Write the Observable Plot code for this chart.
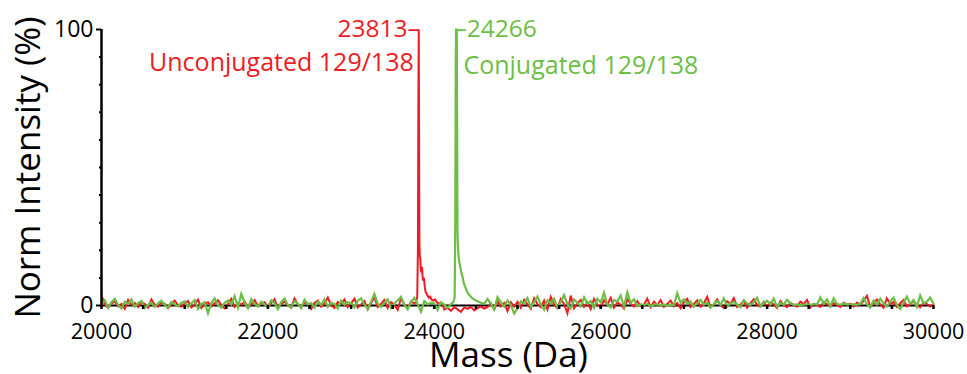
<!DOCTYPE html>
<html><head><meta charset="utf-8">
<script src="https://cdn.jsdelivr.net/npm/d3@7"></script>
<script src="https://cdn.jsdelivr.net/npm/@observablehq/plot@0.6"></script>
<style>body{margin:0;background:#fff}</style>
</head><body><div id="chart"></div><script>
const massStart = 20000, massStep = 40;
const redNoise = [
  3.5, 0.4, -0.9, 0.8, 1.5, -0.3, 0.6, -1.2, 2.0, 0.2, 0.9, -0.6, 1.3, 0.5, -0.8, 2.2, 0.3, -0.4, 1.1, 0.6, -1.0, 0.4, 1.8, 0.1, -0.5,
  0.7, 1.6, -0.7, 0.3, 2.1, -0.9, 0.5, 1.2, -0.3, 0.8, 1.9, 0.2, -1.1, 0.6, 2.4, -0.5, 0.9, 0.3, 1.5, -0.8, 0.4, 2.0, -0.2, 0.7, 1.2,
  -0.6, 0.9, 2.3, -1.0, 0.5, 1.4, 0.2, -0.8, 2.6, 0.4, -0.3, 1.1, 0.7, -1.3, 0.9, 1.8, -0.4, 0.6, 2.9, 0.1, -0.9, 1.3, 0.5, 2.2, -0.6,
  0.8, 2.5, -0.7, 0.4, 1.6, -1.4, 0.9, 3.0, -0.5, 0.6, 2.0, -0.9, 1.2, 0.3, -1.6, 2.7, 0.5, -0.8, 1.4, 0.2, -2.0, 0.9, 1.7, -0.4, 0.6,
  0.5, -0.3, -0.9, -1.5, -0.8, -1.9, -0.6, -1.4, -2.3, -0.7, -1.2, -0.5, -1.8, -0.9, -0.4, -1.1, -0.6, 0.8, -1.5, 1.6, -0.3, 0.9, -2.0, 1.2, -0.4,
  1.3, -0.8, 2.1, 0.4, -1.2, 2.6, 0.5, -0.6, 1.8, -1.4, 3.1, 0.2, -0.9, 2.3, 0.6, -2.8, 3.6, -1.0, 0.8, 2.0, -0.5, 1.1, -1.3, 2.4, 0.3,
  -0.7, 1.9, 0.4, 2.8, -0.8, 1.2, 0.3, -1.1, 2.2, 0.6, -0.4, 1.6, -0.2, 0.3, 2.5, -0.6, 1.4, 0.2, 2.0, -0.5, 0.6, 1.8, -0.3, 0.9, -1.0,
  1.2, 2.4, -0.6, 0.5, 1.9, -0.4, 0.8, 3.1, -0.7, 0.4, 2.2, 0.1, -0.9, 1.5, 0.6, 2.7, -0.5, 0.3, 1.7, -0.8, 0.9, 2.3, 0.2, -0.4, 1.3,
  -0.5, 1.1, 0.4, -0.9, 1.6, 0.2, -0.6, 0.9, 0.3, -0.4, 1.4, 0.5, 2.0, -0.7, 0.6, 0.2, -0.5, 1.2, 0.4, -0.3, 0.8, 0.3, -0.6, 1.0, 0.4,
  0.6, -0.4, 1.1, 0.3, 1.8, 3.5, -0.6, 0.7, 2.2, 0.4, -0.8, 2.6, 0.5, 1.3, -0.5, 0.8, 2.0, -0.3, 0.6, 1.5, 0.2, -0.7, 1.1, 0.5, -0.4,
  0.3
];
const greenNoise = [
  0.6, 1.9, -0.8, 1.2, 2.4, 0.2, -1.1, 1.4, 0.5, 2.2, -0.4, 0.9, 1.6, -0.9, 0.3, 1.1, -0.5, 0.8, 1.7, 0.1, -0.7, 1.3, 0.4, -0.3, 0.9,
  1.5, -0.6, 0.7, 2.0, -1.2, 0.5, 1.2, -2.8, 0.9, 2.6, 0.2, -0.8, 1.0, 1.8, 0.4, 3.4, -0.7, 4.2, 1.1, -1.0, 2.3, 0.6, -0.4, 1.4, 0.3,
  -0.5, 1.9, 0.8, -1.3, 1.2, 2.5, 0.1, -0.6, 1.6, 0.7, -1.0, 2.1, 0.4, 0.9, -0.8, 1.5, 0.2, 2.3, -0.4, 1.0, 0.6, -1.1, 1.8, 0.3, 1.2,
  0.8, -0.7, 1.7, 2.6, 0.3, -1.2, 1.4, 4.2, 0.6, -0.5, 1.1, 2.2, -0.9, 0.7, 1.9, 3.1, 0.2, -1.4, 1.3, 2.8, 0.5, -2.2, 1.6, 0.4, 1.0,
  0.7, -1.6, 1.2, 0.3, -0.9, 1.0, 0.5, 1.2, 0.8, 1.1, 0.4, 0.9, 1.3, 0.6, 1.0, 0.7, 2.4, 0.6, -1.3, 3.0, 1.1, -0.4, 1.8, 0.2, -2.9,
  -1.0, 1.5, 0.8, 2.7, -0.6, 1.2, 3.3, 0.4, -1.5, 1.9, 0.7, 2.5, -0.8, 1.3, 3.8, 0.5, -1.1, 2.2, 1.0, -0.3, 2.9, 0.6, 1.6, -0.9, 2.4,
  1.1, 4.6, 0.3, -0.7, 2.0, 1.4, 3.6, -0.5, 4.8, 0.9, 2.3, -0.3, 0.4, 0.2, 0.6, -0.2, 0.3, 0.5, 0.1, 0.4, -0.1, 0.3, 0.2, 4.5, 1.0,
  2.2, 0.6, 1.4, -0.5, 0.9, 2.0, 0.3, 1.1, -0.8, 0.5, 1.6, 0.2, 2.6, -0.4, 0.8, 1.3, 0.4, -0.6, 1.9, 0.7, 0.2, 1.2, 2.8, -0.3, 0.9,
  1.7, 0.4, 2.5, -0.5, 1.0, 0.3, 2.1, 0.8, 0.2, 0.4, 0.1, 0.3, 0.5, 0.2, 0.6, 0.4, 2.9, 0.6, 2.2, -0.3, 2.6, 0.5, 0.3, 0.6, 0.4,
  0.3, 0.5, 0.2, 0.6, 2.7, 0.4, -0.6, 1.8, 0.3, 2.5, 0.7, -0.4, 1.5, 2.9, 0.2, -1.3, 1.1, 3.2, 0.6, 2.0, -0.5, 3.6, 0.8, 1.4, 2.9,
  0.6
];
// Peak regions (mass, intensity)
const redPeakMass = [23760, 23780, 23795, 23803, 23808, 23813, 23817, 23821, 23826, 23832, 23838, 23845, 23852, 23858, 23866, 23875, 23885, 23894, 23905, 23920, 23935, 23950, 23965, 23990, 24010, 24030, 24050, 24075, 24100];
const redPeakInt  = [0.8, 1.2, 3, 20, 70, 100, 60, 22, 18, 17, 13, 12, 14, 11, 9, 10, 7, 5, 4.5, 3.5, 2.8, 3.2, 2.2, 1.8, 2.2, 1.2, 0.8, 0.6, 0.2];
const greenPeakMass = [24200, 24230, 24245, 24252, 24258, 24263, 24270, 24275, 24279, 24285, 24291, 24300, 24312, 24325, 24339, 24355, 24375, 24395, 24415, 24435, 24460, 24490, 24520, 24560, 24600];
const greenPeakInt  = [0.5, 1.2, 3, 30, 90, 100, 100, 60, 26, 21, 18, 16, 14, 12, 10.5, 8, 6.5, 5, 4, 3.3, 2.6, 2, 1.5, 1, 0.6];

const seriesNames = ["Unconjugated 129/138", "Conjugated 129/138"];
const peakLabels = ["23813", "24266"];
const peakMasses = [23813, 24266];
const xDomain = [20000, 30000];
const yDomain = [0, 100];
const xLabelTicks = [20000, 22000, 24000, 26000, 28000, 30000];
const xMinorTicks = d3.range(20000, 30001, 500);
const yLabelTicks = [0, 100];
const yMinorTicks = [10, 20, 30, 40, 50, 60, 70, 80, 90];

const RED = "#ED1C24", GREEN = "#6DBE45";

function build(noise, pkMass, pkInt) {
  const lo = pkMass[0], hi = pkMass[pkMass.length - 1];
  const pts = noise.map((v, i) => ({mass: massStart + i * massStep, intensity: v}))
    .filter(d => d.mass < lo || d.mass > hi);
  pkMass.forEach((m, i) => pts.push({mass: m, intensity: pkInt[i]}));
  return pts.sort((a, b) => a.mass - b.mass);
}
const red = build(redNoise, redPeakMass, redPeakInt);
const green = build(greenNoise, greenPeakMass, greenPeakInt);

const font = "'Open Sans', 'DejaVu Sans', sans-serif";

const chart = Plot.plot({
  width: 967, height: 374,
  marginLeft: 101, marginRight: 34, marginTop: 29, marginBottom: 69,
  style: {fontFamily: font, background: "#fff", overflow: "visible"},
  x: {domain: xDomain, label: null},
  y: {domain: yDomain, label: null},
  marks: [
    Plot.ruleY([0], {stroke: "black", strokeWidth: 2}),
    Plot.lineY(red, {x: "mass", y: "intensity", stroke: RED, strokeWidth: 2, strokeLinejoin: "miter", strokeMiterlimit: 4}),
    Plot.lineY(green, {x: "mass", y: "intensity", stroke: GREEN, strokeWidth: 2.2, strokeLinejoin: "miter", strokeMiterlimit: 4}),
    Plot.ruleX([xDomain[0]], {y1: yDomain[0], y2: yDomain[1], stroke: "black", strokeWidth: 2.5}),
    Plot.axisX(xMinorTicks, {tickSize: 4, strokeWidth: 2.5, tickFormat: () => ""}),
    Plot.axisX(xLabelTicks, {tickSize: 0, tickPadding: 18, fontSize: 21.5, fill: "black", tickFormat: d => String(d)}),
    Plot.axisY(yMinorTicks, {tickSize: 2, strokeWidth: 2, tickFormat: () => ""}),
    Plot.axisY(yLabelTicks, {tickSize: 5, strokeWidth: 2, tickPadding: 3, fontSize: 23, fill: "black", tickFormat: d => String(d)}),
    // peak labels
    Plot.text([0], {x: () => peakMasses[0], y: () => 100, text: () => peakLabels[0] + "\u2013", textAnchor: "end", dx: 1, fill: RED, fontSize: 24.5, lineAnchor: "middle"}),
    Plot.text([0], {x: () => peakMasses[0], y: () => 100, text: () => seriesNames[0], textAnchor: "end", dx: -5, dy: 33, fill: RED, fontSize: 25, lineAnchor: "middle"}),
    Plot.text([0], {x: () => peakMasses[1], y: () => 100, text: () => "\u2013" + peakLabels[1], textAnchor: "start", dx: -2, fill: GREEN, fontSize: 24.5, lineAnchor: "middle"}),
    Plot.text([0], {x: () => peakMasses[1], y: () => 100, text: () => seriesNames[1], textAnchor: "start", dx: 7, dy: 36, fill: GREEN, fontSize: 25, lineAnchor: "middle"}),
    // axis titles
    Plot.text(["Norm Intensity (%)"], {frameAnchor: "left", text: d => d, textAnchor: "middle", rotate: -90, dx: -73, fontSize: 35, fill: "black", lineAnchor: "middle"}),
    Plot.text(["Mass (Da)"], {frameAnchor: "bottom", text: d => d, textAnchor: "middle", dx: -9, dy: 50, fontSize: 35, fill: "black", lineAnchor: "middle"})
  ]
});
document.getElementById("chart").appendChild(chart);
</script></body></html>
